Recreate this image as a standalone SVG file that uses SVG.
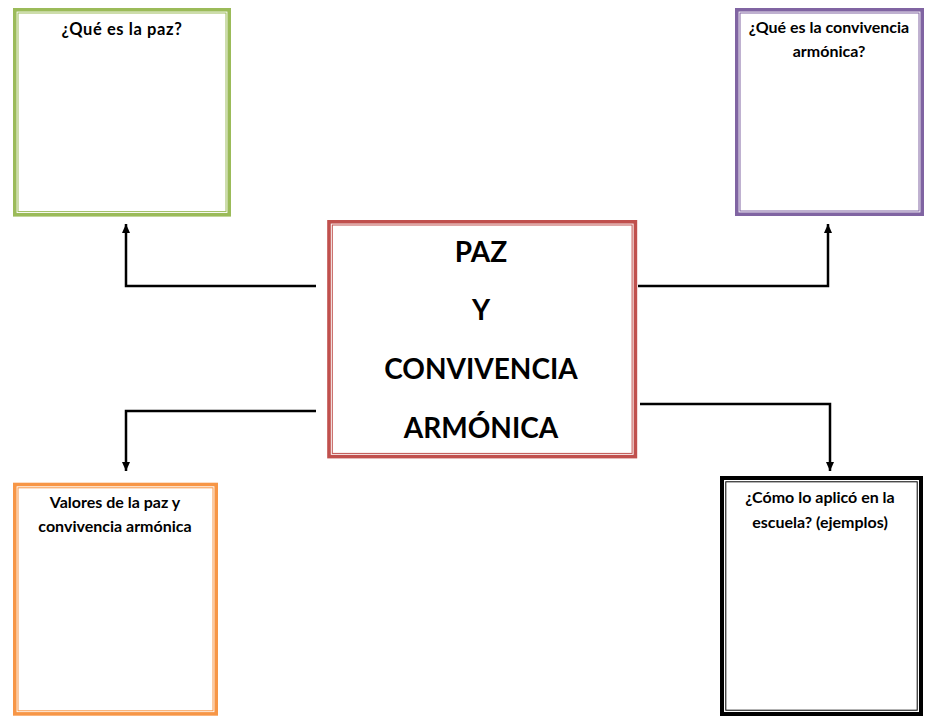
<svg xmlns="http://www.w3.org/2000/svg" width="939" height="726" viewBox="0 0 939 726">
<style>
.outer{fill:none;stroke-width:3.6}
.inner{fill:none;stroke-width:1}
.t{font-family:Lato,"Liberation Sans",sans-serif;font-weight:bold;fill:#000;text-anchor:middle}
.s{font-size:16px}
.g{font-size:16.5px;letter-spacing:0.6px}
.big{font-size:28px}
.conn{fill:none;stroke:#000;stroke-width:2.5}
</style>
<defs>
<marker id="arr" markerUnits="userSpaceOnUse" markerWidth="10" markerHeight="10" refX="9" refY="4" orient="auto">
<path d="M0,0 L9,4 L0,8 z" fill="#000"/>
</marker>
</defs>
<rect width="939" height="726" fill="#fff"/>
<g id="connectors">
<polyline class="conn" points="316,286 126,286 126,224" marker-end="url(#arr)"/>
<polyline class="conn" points="638,286 828,286 828,224" marker-end="url(#arr)"/>
<polyline class="conn" points="316,411 126,411 126,471" marker-end="url(#arr)"/>
<polyline class="conn" points="640,404 830,404 830,471" marker-end="url(#arr)"/>
</g>
<g id="node-paz">
<rect class="outer" x="14.8" y="9.8" width="214.4" height="205" stroke="#9BBB59"/>
<rect class="inner" x="18" y="13" width="208" height="198.6" stroke="#9BBB59"/>
<text class="t g" x="122" y="35">¿Qué es la paz?</text>
</g>
<g id="node-convivencia">
<rect class="outer" x="736.8" y="9.8" width="185.4" height="204.4" stroke="#8064A2"/>
<rect class="inner" x="740" y="13" width="179" height="198" stroke="#8064A2"/>
<text class="t s" x="829" y="33">¿Qué es la convivencia</text>
<text class="t s" x="829" y="57">armónica?</text>
</g>
<g id="node-center">
<rect class="outer" x="329" y="221.8" width="306.4" height="234.8" stroke="#C0504D"/>
<rect class="inner" x="332.3" y="225" width="299.8" height="228.4" stroke="#C0504D"/>
<text class="t big" x="481" y="262">PAZ</text>
<text class="t big" x="481" y="320">Y</text>
<text class="t big" x="481" y="379">CONVIVENCIA</text>
<text class="t big" x="481" y="438">ARMÓNICA</text>
</g>
<g id="node-valores">
<rect class="outer" x="14.8" y="484.5" width="201.4" height="229.4" stroke="#F79646"/>
<rect class="inner" x="18" y="487.8" width="195" height="223" stroke="#F79646"/>
<text class="t s" x="115" y="508">Valores de la paz y</text>
<text class="t s" x="115" y="532">convivencia armónica</text>
</g>
<g id="node-escuela">
<rect class="outer" x="722" y="478" width="199" height="236" stroke="#000" style="stroke-width:4"/>
<rect class="inner" x="725.8" y="481.8" width="191.4" height="228.4" stroke="#000"/>
<text class="t s" x="820" y="503">¿Cómo lo aplicó en la</text>
<text class="t s" x="820" y="528">escuela? (ejemplos)</text>
</g>
</svg>
